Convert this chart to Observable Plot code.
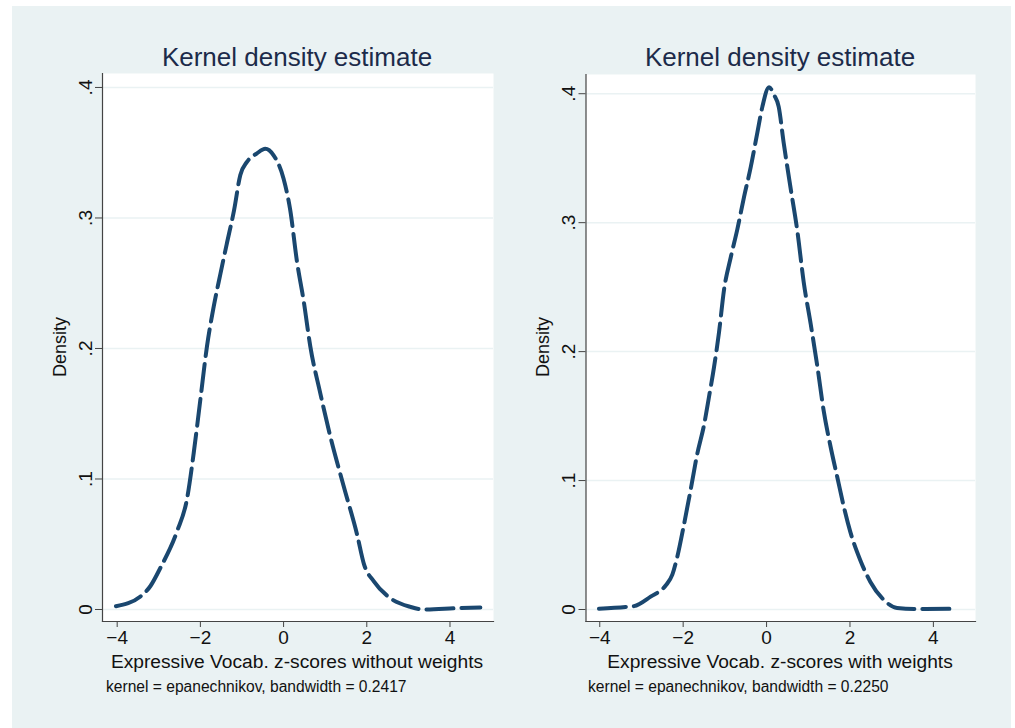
<!DOCTYPE html>
<html>
<head>
<meta charset="utf-8">
<script src="https://cdn.jsdelivr.net/npm/d3@7"></script>
<script src="https://cdn.jsdelivr.net/npm/@observablehq/plot@0.6"></script>
<style>
  body { margin: 0; background: #ffffff; font-family: "Liberation Sans", Arial, sans-serif; }
  #page { position: relative; width: 1015px; height: 728px; overflow: hidden; background: #ffffff; }
  #bg { position: absolute; left: 12px; top: 6px; width: 999px; height: 722px; background: #EAF2F3; }
  .panel { position: absolute; top: 0; }
  .txt { position: absolute; white-space: nowrap; transform: translate(-50%, -50%); }
  .title { font-size: 26px; color: #1c2b4a; }
  .xlab { font-size: 19.2px; color: #111; }
  .note { font-size: 15.6px; color: #111; transform: translate(0, -50%); }
  .ylab { font-size: 18px; color: #111; transform: translate(-50%, -50%) rotate(-90deg); }
</style>
</head>
<body>
<div id="page"><div id="bg"></div></div>
<script>
// ---- data ----
const titleText = "Kernel density estimate";
const yLabelText = "Density";
const xTicks = [-4, -2, 0, 2, 4];
const yTicks = [0, 0.1, 0.2, 0.3, 0.4];
const yTickLabels = ["0", ".1", ".2", ".3", ".4"];

const leftXLabel = "Expressive Vocab. z-scores without weights";
const leftNote = "kernel = epanechnikov, bandwidth = 0.2417";
const leftX = [-4.03,-3.44,-3.2,-2.96,-2.56,-2.32,-2.16,-2.0,-1.84,-1.68,-1.52,-1.36,-1.19,-1.04,-0.88,-0.64,-0.44,-0.24,0,0.16,0.32,0.49,0.64,0.88,1.12,1.44,1.77,1.93,2.17,2.56,3.05,3.37,4.17,4.73];
const leftY = [0.0025,0.010,0.018,0.032,0.060,0.085,0.120,0.161,0.202,0.232,0.257,0.281,0.306,0.333,0.343,0.3495,0.353,0.348,0.330,0.306,0.267,0.235,0.202,0.166,0.133,0.095,0.057,0.035,0.0215,0.0088,0.002,0.0,0.001,0.0015];

const rightXLabel = "Expressive Vocab. z-scores with weights";
const rightNote = "kernel = epanechnikov, bandwidth = 0.2250";
const rightX = [-4.02,-3.38,-3.18,-2.78,-2.42,-2.26,-2.14,-1.98,-1.82,-1.66,-1.50,-1.38,-1.26,-1.14,-1.02,-0.86,-0.70,-0.54,-0.38,-0.22,-0.10,0.06,0.18,0.29,0.41,0.58,0.74,0.89,1.06,1.22,1.37,1.53,1.70,1.85,2.01,2.25,2.49,2.81,3.13,3.69,4.57];
const rightY = [0.0006,0.002,0.0026,0.010,0.0186,0.027,0.041,0.066,0.093,0.121,0.143,0.165,0.188,0.215,0.248,0.273,0.295,0.320,0.343,0.370,0.390,0.405,0.399,0.390,0.362,0.326,0.293,0.254,0.221,0.188,0.154,0.127,0.102,0.080,0.060,0.038,0.0214,0.0075,0.0012,0.0003,0.0006];

// ---- drawing ----
const page = document.getElementById("page");
const font = "'Liberation Sans', Arial, sans-serif";

function panel(xs, ys, opts) {
  const data = xs.map((x, i) => ({x, y: ys[i]}));
  const chart = Plot.plot({
    width: opts.width,
    height: 728,
    marginLeft: opts.marginLeft,
    marginRight: opts.marginRight,
    marginTop: opts.marginTop,
    marginBottom: 107,
    style: {background: "transparent", fontFamily: font, fontSize: "19px", color: "#111", overflow: "visible"},
    x: {domain: opts.xDomain},
    y: {domain: opts.yDomain},
    marks: [
      Plot.frame({fill: "white", stroke: null}),
      Plot.gridY(yTicks, {stroke: "#EAF2F3", strokeOpacity: 1, strokeWidth: 1.5}),
      Plot.frame({anchor: "left", stroke: "#444", strokeWidth: 1.2}),
      Plot.frame({anchor: "bottom", stroke: "#444", strokeWidth: 1.2}),
      Plot.axisX({ticks: xTicks, tickSize: 6, tickPadding: 3, fontSize: 19, label: null, stroke: "#444"}),
      Plot.axisY({ticks: yTicks, tickFormat: (d) => yTickLabels[yTicks.indexOf(d)], tickRotate: -90, tickSize: 7, tickPadding: 4, fontSize: 19, label: null, stroke: "#444"}),
      Plot.line(data, {x: "x", y: "y", stroke: "#1A476F", strokeWidth: 4, strokeDasharray: "27,8", curve: "monotone-x"})
    ]
  });
  chart.classList.add("panel");
  chart.style.left = opts.left + "px";
  page.appendChild(chart);
}

panel(leftX, leftY, {left: 0, width: 510, marginLeft: 102, marginRight: 17, marginTop: 73, xDomain: [-4.353, 5.046], yDomain: [-0.0092, 0.4107]});
panel(rightX, rightY, {left: 500, width: 500, marginLeft: 85.5, marginRight: 25, marginTop: 74, xDomain: [-4.33, 5.01], yDomain: [-0.0093, 0.4149]});

function addText(text, cls, x, y) {
  const d = document.createElement("div");
  d.className = "txt " + cls;
  d.textContent = text;
  d.style.left = x + "px";
  d.style.top = y + "px";
  page.appendChild(d);
}
addText(titleText, "title", 297, 57);
addText(titleText, "title", 780, 57);
addText(yLabelText, "ylab", 60, 347);
addText(yLabelText, "ylab", 543, 347);
addText(leftXLabel, "xlab", 297, 662);
addText(rightXLabel, "xlab", 780, 662);
addText(leftNote, "note", 106, 687);
addText(rightNote, "note", 588, 687);
</script>
</body>
</html>
